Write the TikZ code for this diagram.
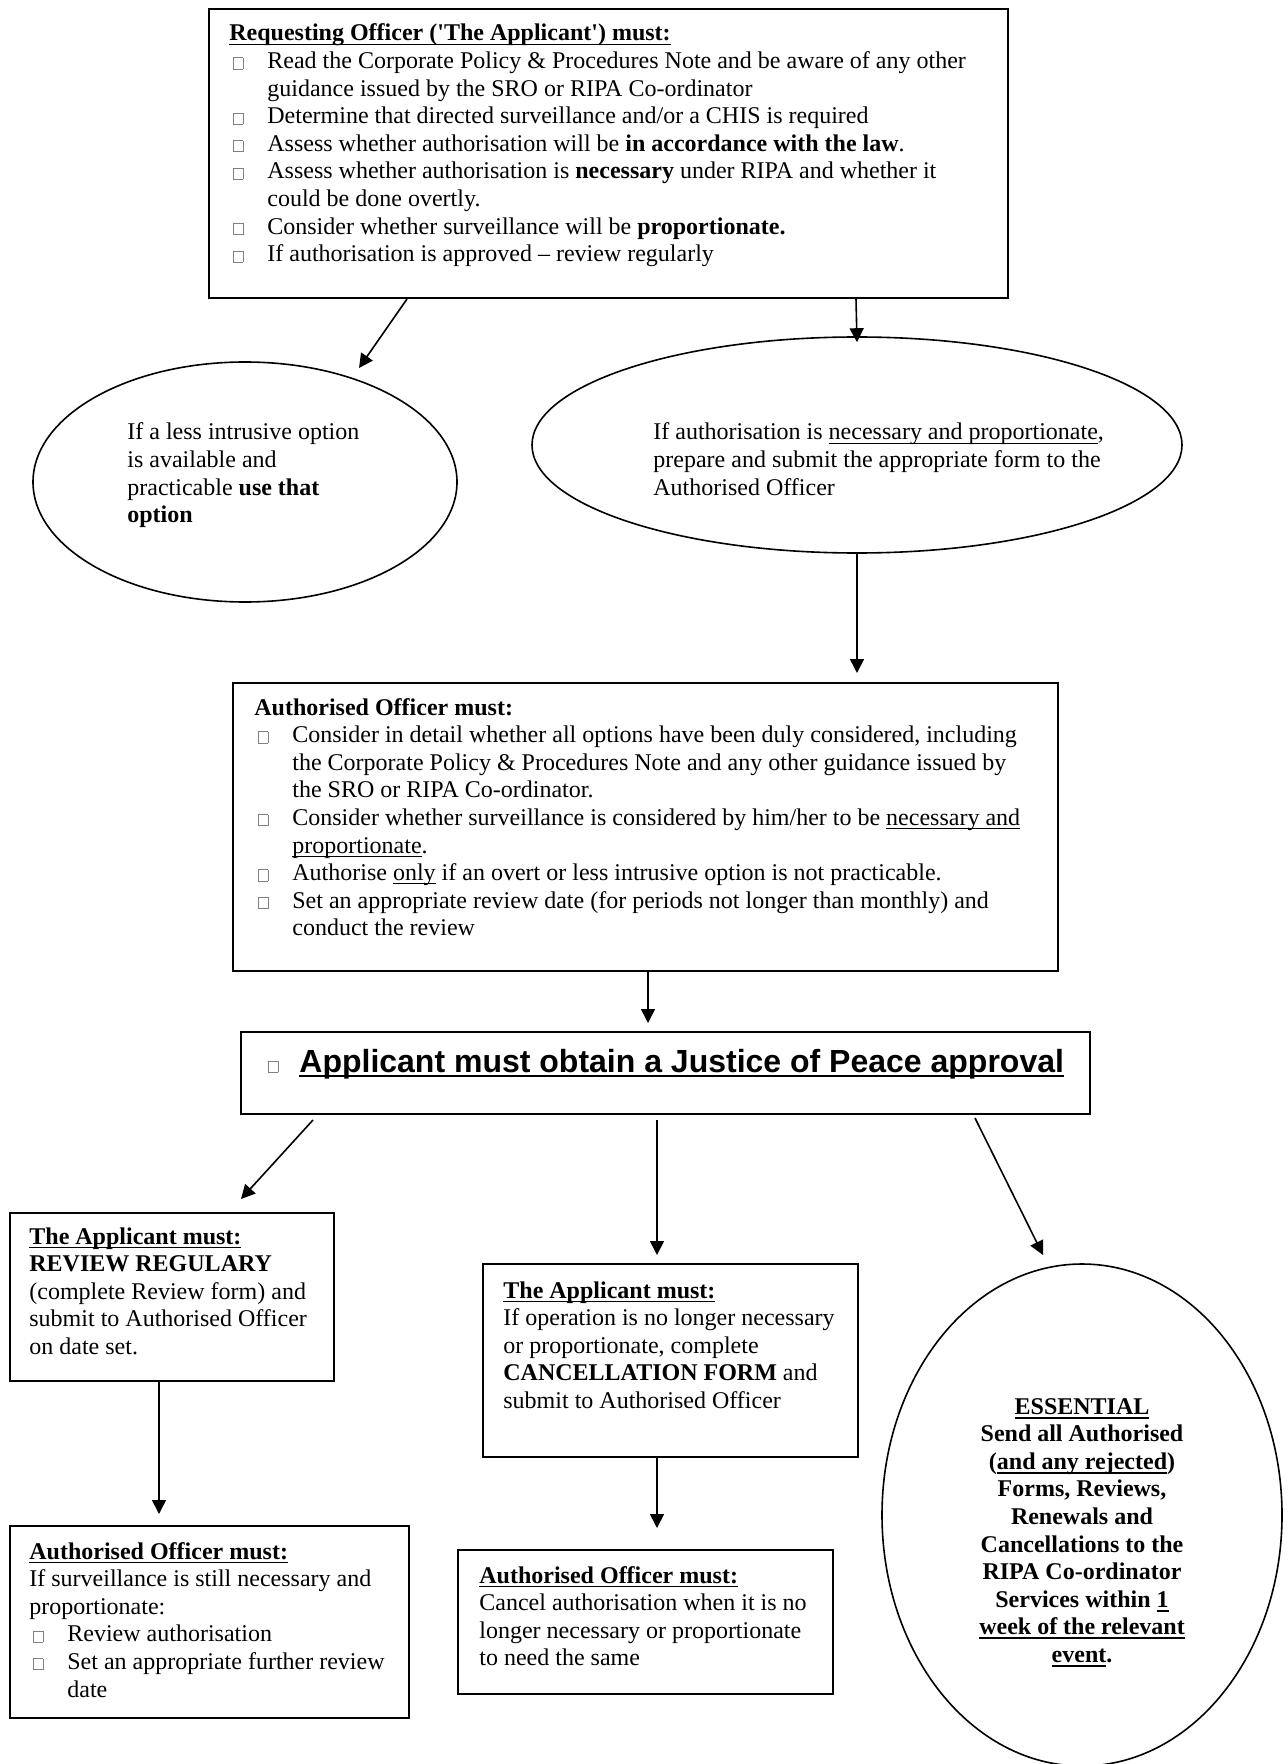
\documentclass[tikz,border=0pt]{standalone}
\usepackage{fontspec}
\setmainfont{Liberation Serif}
\newfontfamily\arialf{Liberation Sans}
\usetikzlibrary{shapes.geometric,arrows.meta,calc}
\newcommand\sq{\XeTeXglyph\XeTeXcharglyph"27\relax}
\newcommand\ulw[2][0.6pt]{\leavevmode\setbox0\hbox{#2}\rlap{\rule[\dimexpr-1.3pt-#1\relax]{\wd0}{#1}}\box0\relax}
\newcommand\bxg{{\color{black!50}\setlength\fboxsep{0pt}\setlength\fboxrule{0.4pt}\fbox{\rule{0pt}{5.2pt}\rule{4.2pt}{0pt}}}}
\newcommand\bl{\leavevmode\hspace*{2pt}\makebox[17pt][l]{\bxg}}
\newcommand\cl{\leavevmode\hspace*{19pt}}
\tikzset{
  txt/.style={inner sep=0pt, anchor=base west, font=\fontsize{12pt}{13.8pt}\selectfont},
  boxs/.style={draw, line width=1pt, anchor=north west, inner sep=0pt},
  ell/.style={draw, ellipse, line width=0.8pt, inner sep=0pt},
  arr/.style={line width=0.8pt, -{Triangle[length=7pt,width=7pt]}}
}
\begin{document}
\begin{tikzpicture}[x=0.5pt,y=-0.5pt]
\useasboundingbox (0,0) rectangle (1287,1764);
% boxes and ellipses
\node[boxs, minimum width=399.5pt, minimum height=144.5pt] (b1) at (208,8) {};
\node[ell, minimum width=212pt, minimum height=120pt] (e1) at (245,482) {};
\node[ell, minimum width=325pt, minimum height=108pt] (e2) at (857,445) {};
\node[boxs, minimum width=412.5pt, minimum height=144pt] (b2) at (232,682) {};
\node[boxs, minimum width=424.5pt, minimum height=41pt] (jp) at (240,1031) {};
\node[boxs, minimum width=162pt, minimum height=84pt] (bA) at (9,1212) {};
\node[boxs, minimum width=199.5pt, minimum height=96pt] (bB) at (9,1525) {};
\node[boxs, minimum width=187.5pt, minimum height=96.5pt] (bC) at (482,1263) {};
\node[boxs, minimum width=187.5pt, minimum height=72pt] (bD) at (457,1549) {};
\node[ell, minimum width=200pt, minimum height=251pt] (eE) at (1082,1515) {};
% texts
\node[txt] (t1) at (229,41) {\parbox[t]{480pt}{\raggedright
\ulw[0.8pt]{\textbf{Requesting Officer (\sq The Applicant\sq) must:}}\\
\bl Read the Corporate Policy \& Procedures Note and be aware of any other\\
\cl guidance issued by the SRO or RIPA Co-ordinator\\
\bl Determine that directed surveillance and/or a CHIS is required\\
\bl Assess whether authorisation will be \textbf{in accordance with the law}.\\
\bl Assess whether authorisation is \textbf{necessary} under RIPA and whether it\\
\cl could be done overtly.\\
\bl Consider whether surveillance will be \textbf{proportionate.}\\
\bl If authorisation is approved – review regularly}};
\node[txt] (t2) at (127,440) {\parbox[t]{200pt}{\raggedright
If a less intrusive option\\
is available and\\
practicable \textbf{use that}\\
\textbf{option}}};
\node[txt] (t3) at (653,440) {\parbox[t]{300pt}{\raggedright
If authorisation is \ulw{necessary and proportionate},\\
prepare and submit the appropriate form to the\\
Authorised Officer}};
\node[txt] (t4) at (254,715) {\parbox[t]{480pt}{\raggedright
\textbf{Authorised Officer must:}\\
\bl Consider in detail whether all options have been duly considered, including\\
\cl the Corporate Policy \& Procedures Note and any other guidance issued by\\
\cl the SRO or RIPA Co-ordinator.\\
\bl Consider whether surveillance is considered by him/her to be \ulw{necessary and}\\
\cl \ulw{proportionate}.\\
\bl Authorise \ulw{only} if an overt or less intrusive option is not practicable.\\
\bl Set an appropriate review date (for periods not longer than monthly) and\\
\cl conduct the review}};
\node[txt, font=\arialf\bfseries\fontsize{16pt}{18pt}\selectfont] (t5) at (268,1072)
  {\makebox[15.5pt][l]{\bxg}\ulw[1.1pt]{Applicant must obtain a Justice of Peace approval}};
\node[txt] (t6) at (29,1244) {\parbox[t]{200pt}{\raggedright
\ulw[0.8pt]{\textbf{The Applicant must:}}\\
\textbf{REVIEW REGULARY}\\
(complete Review form) and\\
submit to Authorised Officer\\
on date set.}};
\node[txt] (t7) at (29,1559) {\parbox[t]{220pt}{\raggedright
\ulw[0.8pt]{\textbf{Authorised Officer must:}}\\
If surveillance is still necessary and\\
proportionate:\\
\bl Review authorisation\\
\bl Set an appropriate further review\\
\cl date}};
\node[txt] (t8) at (503,1298) {\parbox[t]{220pt}{\raggedright
\ulw[0.8pt]{\textbf{The Applicant must:}}\\
If operation is no longer necessary\\
or proportionate, complete\\
\textbf{CANCELLATION FORM} and\\
submit to Authorised Officer}};
\node[txt] (t9) at (479,1583) {\parbox[t]{220pt}{\raggedright
\ulw[0.8pt]{\textbf{Authorised Officer must:}}\\
Cancel authorisation when it is no\\
longer necessary or proportionate\\
to need the same}};
\node[txt, anchor=base] (t10) at (1082,1414) {\parbox[t]{190pt}{\centering\bfseries
\ulw[1pt]{ESSENTIAL}\\
Send all Authorised\\
(\ulw[1pt]{and any rejected})\\
Forms, Reviews,\\
Renewals and\\
Cancellations to the\\
RIPA Co-ordinator\\
Services within \ulw[1pt]{1}\\
\ulw[1pt]{week of the relevant}\\
\ulw[1pt]{event}.}};
% connector end points
\coordinate (c1) at (359,368);
\coordinate (c3) at (857,673);
\coordinate (c4) at (648,1023);
\coordinate (c5) at (241,1199);
\coordinate (c6) at (657,1255);
\coordinate (c7) at (1043,1255);
\coordinate (c8) at (159,1514);
\coordinate (c9) at (657,1528);
% connectors
\draw[arr] ($(b1.south west)+(199,0)$) -- (c1);
\draw[arr] ($(b1.south west)+(648,0)$) -- ([yshift=-3pt]e2.north);
\draw[arr] (e2.south) -- (c3);
\draw[arr] ($(b2.south west)+(416,0)$) -- (c4);
\draw[arr] ($(jp.south west)+(73,5)$) -- (c5);
\draw[arr] ($(jp.south west)+(417,5)$) -- (c6);
\draw[arr] ($(jp.south west)+(735,3)$) -- (c7);
\draw[arr] ($(bA.south west)+(150,0)$) -- (c8);
\draw[arr] ($(bC.south west)+(175,0)$) -- (c9);
\end{tikzpicture}
\end{document}
